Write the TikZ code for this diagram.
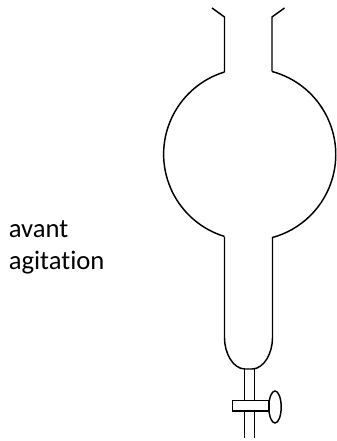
\documentclass[tikz,border=0pt]{standalone}
\usepackage{fontspec}
\setmainfont[Ligatures=NoCommon]{Carlito}
\tikzset{glass/.style={line width=1.1pt,black}, lbl/.style={font=\fontsize{20}{24}\selectfont,align=left,anchor=north west,inner sep=0pt}}
\begin{document}
\begin{tikzpicture}[x=0.75pt,y=-0.75pt]
\useasboundingbox (0,0) rectangle (336,441);
\node[lbl] (t) at (8.5,220.5) {avant\\agitation};
\draw[glass] (212,8) -- (224.5,17) -- (224.5,72);
\draw[glass] (284.5,8) -- (272,17) -- (272,71.5);
\draw[glass] (224.5,72) arc[start angle=-107,end angle=-253,x radius=86,y radius=86];
\draw[glass] (272,71.5) arc[start angle=-75,end angle=75,x radius=86,y radius=86];
\draw[glass] (224.5,237) -- (224.5,338) .. controls (224.5,353) and (233,369) .. (245,369) -- (252,369) .. controls (264,369) and (272.5,353) .. (272.5,338) -- (272.5,237);
\draw[glass] (244.3,369) -- (244.3,400.7) (254.7,369) -- (254.7,400.7);
\draw[glass] (244.3,411) -- (244.3,438) (254.7,411) -- (254.7,438);
\draw[glass] (232.3,400.7) rectangle (269,411);
\draw[glass] (275,407) ellipse[x radius=6.2,y radius=16];
\end{tikzpicture}
\end{document}
